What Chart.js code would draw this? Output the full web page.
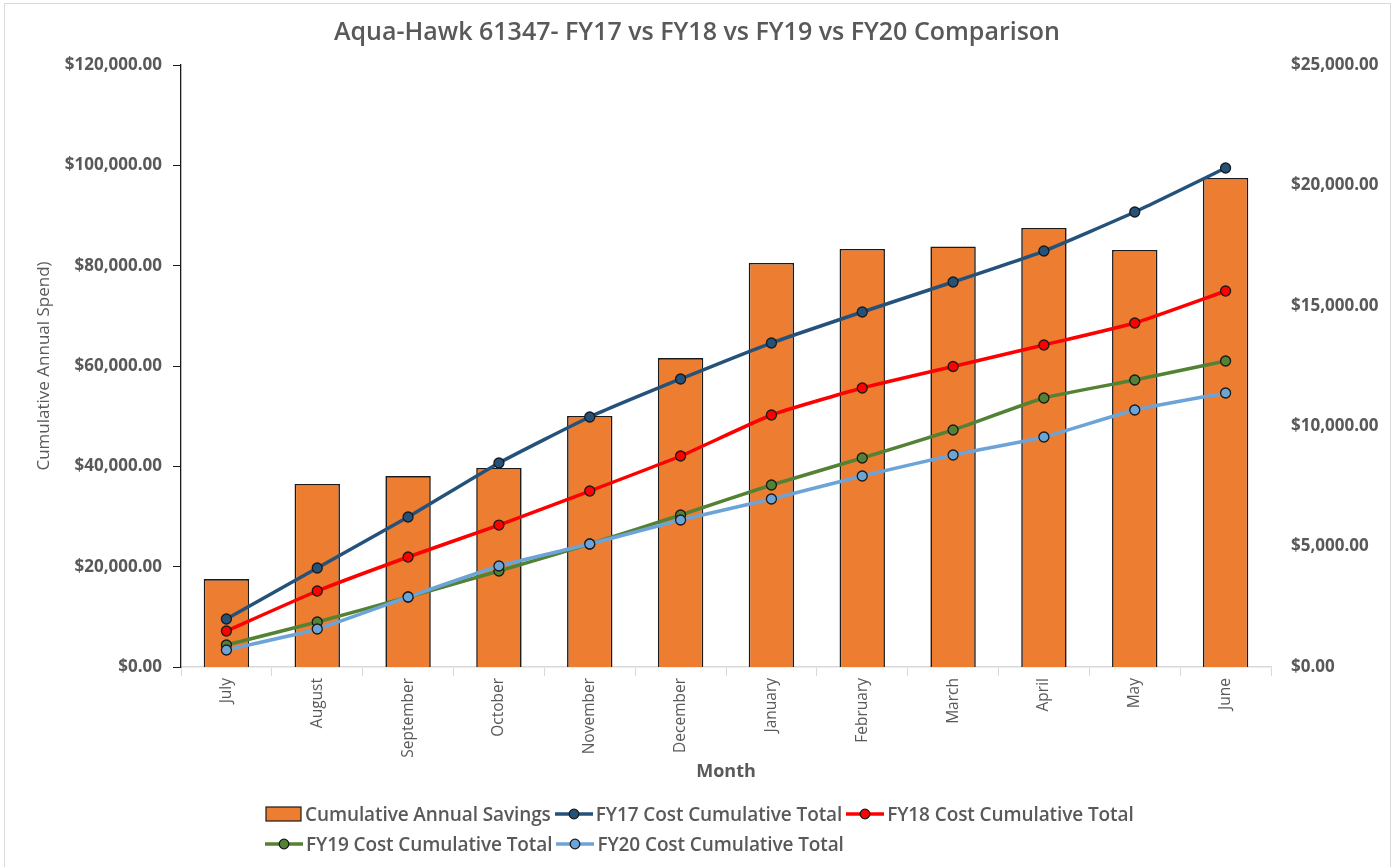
<!DOCTYPE html>
<html>
<head>
<meta charset="utf-8">
<title>Aqua-Hawk 61347 Comparison</title>
<script src="https://cdn.jsdelivr.net/npm/chart.js@4.4.1/dist/chart.umd.min.js"></script>
<style>
  html, body { margin:0; padding:0; background:#fff; }
  #wrap { position:relative; width:1394px; height:867px; overflow:hidden; }
  #frame { position:absolute; left:4px; top:3px; right:3px; bottom:-2px; border:1px solid #d9d9d9; pointer-events:none; }
  #chart { position:absolute; left:0; top:0; }
  .legend { position:absolute; left:265px; font-family:"Open Sans",sans-serif; font-size:19px; font-weight:600; color:#595959; white-space:nowrap; line-height:24px; letter-spacing:-0.1px; }
  .legend .item { display:inline-flex; align-items:center; margin-right:4px; }
  .legend svg { margin-right:3px; }
</style>
</head>
<body>
<div id="wrap">
  <canvas id="chart" width="1394" height="867"></canvas>
  <div id="frame"></div>
  <div class="legend" id="leg1" style="top:802px"></div>
  <div class="legend" id="leg2" style="top:832px"></div>
</div>
<script>
const months = ["July","August","September","October","November","December","January","February","March","April","May","June"];
const savings = [3650, 7600, 7930, 8265, 10425, 12830, 16780, 17360, 17465, 18230, 17320, 20310];
const fy17 = [9570, 19730, 29900, 40660, 49830, 57410, 64580, 70760, 76740, 82920, 90700, 99470];
const fy18 = [7180, 15150, 21930, 28300, 35080, 42060, 50230, 55610, 59900, 64190, 68570, 74950];
const fy19 = [4390, 8970, 13950, 19140, 24520, 30300, 36280, 41660, 47240, 53620, 57210, 61000];
const fy20 = [3390, 7570, 13950, 20130, 24520, 29300, 33490, 38070, 42260, 45850, 51230, 54620];

const TXT = "#595959";
const fmtUsd = v => "$" + Number(v).toLocaleString("en-US", {minimumFractionDigits:2, maximumFractionDigits:2});

const series = [
  { label:"FY17 Cost Cumulative Total", data: fy17, color:"#24527A", order:4 },
  { label:"FY18 Cost Cumulative Total", data: fy18, color:"#FF0000", order:3 },
  { label:"FY19 Cost Cumulative Total", data: fy19, color:"#548235", order:2 },
  { label:"FY20 Cost Cumulative Total", data: fy20, color:"#6CA4D8", order:1 }
];

const lineSets = series.map(s => ({
  type:"line",
  label: s.label,
  data: s.data,
  yAxisID:"y",
  order: s.order,
  borderColor: s.color,
  borderWidth: 3.5,
  tension: 0.15,
  pointRadius: 5,
  pointBackgroundColor: s.color,
  pointBorderColor: "#1a1a1a",
  pointBorderWidth: 1.3
}));

new Chart(document.getElementById("chart"), {
  type:"bar",
  data:{
    labels: months,
    datasets:[
      { type:"bar", label:"Cumulative Annual Savings", data: savings, yAxisID:"y1", order:10,
        backgroundColor:"#ED7D31", borderColor:"#1a1a1a", borderWidth:1.6,
        barPercentage:0.5, categoryPercentage:1 },
      ...lineSets
    ]
  },
  options:{
    responsive:false, animation:false,
    layout:{ padding:{ left:0, right:0, top:0, bottom:80 } },
    plugins:{
      legend:{ display:false },
      tooltip:{ enabled:false },
      title:{ display:true, text:"Aqua-Hawk 61347- FY17 vs FY18 vs FY19 vs FY20 Comparison",
        color:TXT, font:{ family:"Open Sans", size:25, weight:"600" }, padding:{ top:18, bottom:17 } }
    },
    scales:{
      x:{
        grid:{ display:true, drawOnChartArea:false, drawTicks:true, tickLength:9, color:"#d9d9d9", offset:true },
        border:{ color:"#d9d9d9", width:1.5 },
        ticks:{ color:TXT, font:{ family:"Open Sans", size:15.5 }, minRotation:90, maxRotation:90, padding:2 },
        title:{ display:true, text:"Month", color:TXT, font:{ family:"Open Sans", size:18, weight:"bold" }, padding:{ top:0, bottom:4 } },
        afterFit: s => { s.height = 120; }
      },
      y:{
        position:"left", min:0, max:120000,
        ticks:{ stepSize:20000, color:TXT, font:{ family:"Open Sans", size:17, weight:"bold" }, padding:11, callback: v => fmtUsd(v) },
        grid:{ display:true, drawOnChartArea:false, drawTicks:true, tickLength:8, color:"#1a1a1a" },
        border:{ color:"#1a1a1a", width:1.3 },
        title:{ display:true, text:"Cumulative Annual Spend)", color:TXT, font:{ family:"Open Sans", size:17 }, padding:{ top:34, bottom:0 } },
        afterFit: s => { s.width = 181; }
      },
      y1:{
        position:"right", min:0, max:25000,
        ticks:{ stepSize:5000, color:TXT, font:{ family:"Open Sans", size:17, weight:"bold" }, padding:12, callback: v => fmtUsd(v) },
        grid:{ display:false, drawOnChartArea:false },
        border:{ display:false },
        afterFit: s => { s.width = 123; }
      }
    }
  }
});

// legend, laid out like the spreadsheet one: two left-aligned rows
function barIcon(){
  return '<svg width="37" height="18"><rect x="1" y="2" width="35" height="14" fill="#ED7D31" stroke="#1a1a1a" stroke-width="1.2"/></svg>';
}
function lineIcon(c){
  return `<svg width="38" height="18"><line x1="0" y1="9" x2="38" y2="9" stroke="${c}" stroke-width="3.5"/><circle cx="19" cy="9" r="4.8" fill="${c}" stroke="#1a1a1a" stroke-width="1.3"/></svg>`;
}
const legItems = [{ label:"Cumulative Annual Savings", icon: barIcon() }]
  .concat(series.map(s => ({ label: s.label, icon: lineIcon(s.color) })));
const toHtml = it => `<span class="item">${it.icon}${it.label}</span>`;
document.getElementById("leg1").innerHTML = legItems.slice(0,3).map(toHtml).join("");
document.getElementById("leg2").innerHTML = legItems.slice(3).map(toHtml).join("");
</script>
</body>
</html>
